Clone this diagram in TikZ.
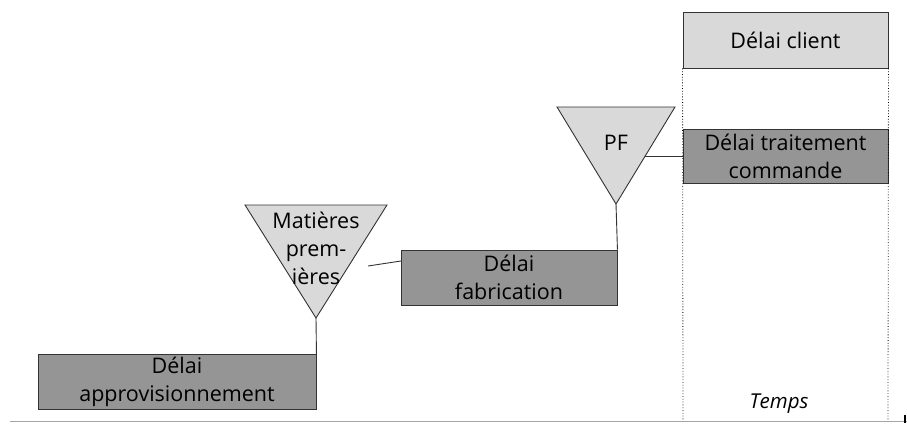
\documentclass[tikz,border=0pt]{standalone}
\usepackage{fontspec}
\setmainfont{Open Sans}
\definecolor{darkfill}{HTML}{959595}
\definecolor{lightfill}{HTML}{D9D9D9}
\definecolor{edge}{HTML}{333333}
\begin{document}
\begin{tikzpicture}[x=1pt,y=-1pt,font=\fontsize{21.5}{28}\selectfont,
  darkbox/.style={draw=edge,line width=0.9pt,fill=darkfill,align=center,inner sep=0pt},
  lightbox/.style={draw=edge,line width=0.9pt,fill=lightfill,align=center,inner sep=0pt},
  tri/.style={draw=edge,line width=0.9pt,fill=lightfill},
  conn/.style={draw=edge,line width=0.9pt},
  guide/.style={draw=black,dotted,line width=0.8pt}]
\useasboundingbox (0,0) rectangle (907,423);
% boxes
\node[darkbox,minimum width=278pt,minimum height=55pt] (appro) at (177,382) {Délai\\approvisionnement};
\node[darkbox,minimum width=216pt,minimum height=55pt] (fab) at (509,277.5) {Délai\\fabrication};
\node[darkbox,minimum width=205pt,minimum height=54pt] (trait) at (785.5,156) {Délai traitement\\commande};
\node[lightbox,minimum width=205pt,minimum height=56pt] (client) at (785.5,40) {Délai client};
% triangles
\draw[tri] (245,205) -- (387,205) -- (316,318) -- cycle;
\coordinate (mptip) at (316,318);
\node[align=center,inner sep=0pt] (mp) at (316,248) {Matières\\prem-\\ières};
\draw[tri] (557,107) -- (675,107) -- (616,204) -- cycle;
\coordinate (pftip) at (616,204);
\node[inner sep=0pt] (pf) at (616,143) {PF};
% connectors
\draw[conn] (mptip) -- (appro.north east);
\draw[conn] (pftip) -- (fab.north east);
\coordinate (mpout) at (368,266);
\coordinate (fabin) at (401,261);
\draw[conn] (mpout) -- (fabin);
\coordinate (pfout) at (645,156);
\draw[conn] (pfout) -- (trait.west);
% time axis
\coordinate (axl) at (10,421);
\coordinate (axr) at (907,421);
\draw[draw=gray!70,line width=1pt] (axl) -- (axr);
\coordinate (gl) at (683,421);
\coordinate (gr) at (888,421);
\draw[guide] (client.south west) -- (gl);
\draw[guide] (client.south east) -- (gr);
\coordinate (tk1) at (905,415);
\coordinate (tk2) at (905,423);
\draw[line width=1.5pt] (tk1) -- (tk2);
\node[font=\fontsize{20.5}{24}\selectfont\itshape] (temps) at (779,404) {Temps};
\end{tikzpicture}
\end{document}
